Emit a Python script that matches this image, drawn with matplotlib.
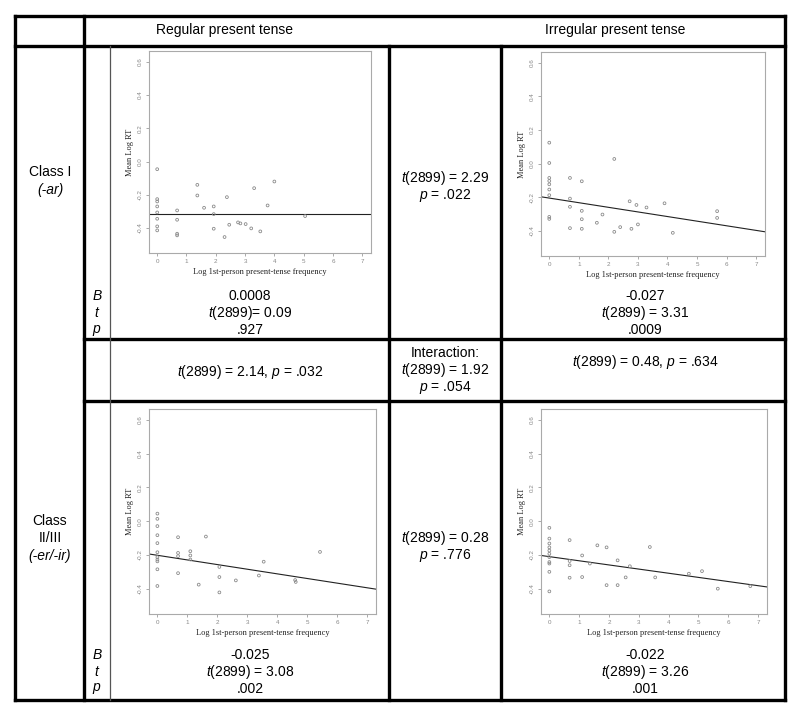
import matplotlib
matplotlib.use("Agg")
import matplotlib.pyplot as plt
from matplotlib.lines import Line2D
import numpy as np

plt.rcParams['font.family'] = ['Liberation Sans', 'DejaVu Sans']
plt.rcParams['mathtext.fontset'] = 'custom'
plt.rcParams['mathtext.rm'] = 'Liberation Sans'
plt.rcParams['mathtext.it'] = 'Liberation Sans:italic'

# ---------------- data ----------------
col_headers = ["Regular present tense", "Irregular present tense"]

# Class I, regular
c1_reg_x = [0, 0, 0, 0, 0, 0, 0, 0, 0.68, 0.68, 0.68, 0.68, 1.37, 1.37, 1.6, 1.93, 1.93,
            1.93, 2.3, 2.38, 2.46, 2.76, 2.84, 3.02, 3.21, 3.31, 3.52, 3.77, 4.0, 5.05]
c1_reg_y = [-0.046, -0.226, -0.24, -0.27, -0.306, -0.344, -0.39, -0.414, -0.294, -0.35,
            -0.434, -0.444, -0.14, -0.204, -0.278, -0.27, -0.316, -0.404, -0.454, -0.214,
            -0.38, -0.366, -0.372, -0.376, -0.402, -0.16, -0.42, -0.264, -0.12, -0.328]
c1_reg_fit = (-0.316, 0.0)  # intercept, slope

# Class I, irregular
c1_irr_x = [0, 0, 0, 0, 0, 0, 0, 0, 0, 0.7, 0.7, 0.7, 0.7, 1.1, 1.1, 1.1, 1.1, 1.61, 1.8,
            2.2, 2.2, 2.4, 2.72, 2.78, 2.95, 3.0, 3.29, 3.9, 4.18, 5.68, 5.68]
c1_irr_y = [0.125, 0.004, -0.085, -0.103, -0.123, -0.154, -0.188, -0.317, -0.329, -0.085,
            -0.208, -0.257, -0.384, -0.105, -0.281, -0.331, -0.388, -0.352, -0.303, 0.028,
            -0.406, -0.378, -0.224, -0.388, -0.246, -0.362, -0.261, -0.236, -0.412, -0.283,
            -0.323]
c1_irr_fit = (-0.205, -0.0275)

# Class II/III, regular
c2_reg_x = [0, 0, 0, 0, 0, 0, 0, 0, 0, 0, 0, 0.69, 0.69, 0.69, 0.69, 1.1, 1.1, 1.1, 1.38,
            1.62, 2.07, 2.07, 2.07, 2.62, 3.39, 3.55, 4.6, 4.62, 5.43]
c2_reg_y = [0.045, 0.014, -0.029, -0.083, -0.13, -0.184, -0.213, -0.227, -0.238, -0.285,
            -0.384, -0.095, -0.188, -0.207, -0.308, -0.178, -0.203, -0.227, -0.376, -0.091,
            -0.271, -0.331, -0.422, -0.351, -0.322, -0.24, -0.349, -0.36, -0.182]
c2_reg_fit = (-0.202, -0.0275)

# Class II/III, irregular
c2_irr_x = [0, 0, 0, 0, 0, 0, 0, 0, 0, 0, 0, 0.68, 0.68, 0.68, 0.68, 1.1, 1.1, 1.36, 1.61,
            1.92, 1.92, 2.29, 2.29, 2.56, 2.7, 3.37, 3.55, 4.68, 5.12, 5.65, 6.74]
c2_irr_y = [-0.039, -0.103, -0.132, -0.155, -0.174, -0.193, -0.213, -0.242, -0.251, -0.3,
            -0.416, -0.112, -0.236, -0.261, -0.335, -0.203, -0.331, -0.251, -0.143, -0.155,
            -0.379, -0.232, -0.379, -0.333, -0.267, -0.153, -0.333, -0.311, -0.296, -0.4,
            -0.385]
c2_irr_fit = (-0.21, -0.0246)

x_ticks = [0, 1, 2, 3, 4, 5, 6, 7]
y_ticks = [-0.4, -0.2, 0.0, 0.2, 0.4, 0.6]
y_ticklabels = ["-0.4", "-0.2", "0.0", "0.2", "0.4", "0.6"]

row1_stats_reg = ["0.0008", r"$t$(2899)= 0.09", ".927"]
row1_stats_irr = ["-0.027", r"$t$(2899) = 3.31", ".0009"]
row2_stats_reg = ["-0.025", r"$t$(2899) = 3.08", ".002"]
row2_stats_irr = ["-0.022", r"$t$(2899) = 3.26", ".001"]
stat_names = [r"$B$", r"$t$", r"$p$"]
mid_row1 = [r"$t$(2899) = 2.29", r"$p$ = .022"]
mid_row2 = [r"$t$(2899) = 0.28", r"$p$ = .776"]
interaction = ["Interaction:", r"$t$(2899) = 1.92", r"$p$ = .054"]
inter_reg = r"$t$(2899) = 2.14, $p$ = .032"
inter_irr = r"$t$(2899) = 0.48, $p$ = .634"

# ---------------- figure ----------------
W, H = 800, 715
fig = plt.figure(figsize=(W / 100, H / 100), dpi=100)
fig.patch.set_facecolor('white')

def fx(x):
    return x / W

def fy(y):
    return 1 - y / H

def hline(y, x0, x1, lw=2.4, color='black'):
    fig.add_artist(Line2D([fx(x0), fx(x1)], [fy(y), fy(y)], transform=fig.transFigure,
                          lw=lw, color=color, solid_capstyle='projecting'))

def vline(x, y0, y1, lw=2.4, color='black'):
    fig.add_artist(Line2D([fx(x), fx(x)], [fy(y0), fy(y1)], transform=fig.transFigure,
                          lw=lw, color=color, solid_capstyle='projecting'))

def txt(x, y, s, size=10, **kw):
    fig.text(fx(x), fy(y), s, ha='center', va='center', fontsize=size, **kw)

# table lines
hline(15.5, 15, 785)
hline(45.5, 15, 785)
hline(339, 84, 785)
hline(401, 84, 785)
hline(700, 15, 785)
vline(15, 15.5, 700)
vline(84, 15.5, 700)
vline(785, 15.5, 700)
vline(389, 45.5, 700)
vline(501, 45.5, 700)
vline(110, 45.5, 700, lw=0.9, color='#555555')

# scatter panels
panels = [
    (149, 371, 51, 253, c1_reg_x, c1_reg_y, c1_reg_fit),
    (541, 765, 52, 256, c1_irr_x, c1_irr_y, c1_irr_fit),
    (149, 376, 409, 614, c2_reg_x, c2_reg_y, c2_reg_fit),
    (541, 767, 409, 614, c2_irr_x, c2_irr_y, c2_irr_fit),
]
for (l, r, t, b, xs, ys, fit) in panels:
    ax = fig.add_axes([fx(l), fy(b), (r - l) / W, (b - t) / H])
    ax.scatter(xs, ys, s=4, facecolors='none', edgecolors='#8a8a8a', linewidths=0.6, zorder=3)
    xl = (-0.28, 7.3)
    ax.set_xlim(*xl)
    ax.set_ylim(-0.55, 0.665)
    xx = np.array(xl)
    ax.plot(xx, fit[0] + fit[1] * xx, color='#222222', lw=0.8)
    ax.set_xticks(x_ticks)
    ax.set_yticks(y_ticks)
    ax.set_yticklabels(y_ticklabels, rotation=90, va='center')
    ax.tick_params(axis='both', labelsize=4.5, colors='#888888', length=2.5, width=0.5,
                   pad=2)
    for sp in ax.spines.values():
        sp.set_color('#aaaaaa')
        sp.set_linewidth(0.8)
    ax.set_ylabel("Mean Log RT", family='Liberation Serif', fontsize=6, color='#222222',
                  labelpad=3)
    ax.set_xlabel("Log 1st-person present-tense frequency", family='Liberation Serif',
                  fontsize=6, color='#222222', labelpad=3)

# header
txt(225, 30, col_headers[0])
txt(615, 30, col_headers[1])

# row labels
txt(50, 172, "Class I")
txt(50, 190, "(-ar)", style='italic')
txt(50, 521, "Class")
txt(50, 538, "II/III")
txt(50, 556, "(-er/-ir)", style='italic')

# stats rows
for i, yy in enumerate([296, 313, 330]):
    txt(97, yy, stat_names[i])
    txt(250, yy, row1_stats_reg[i])
    txt(645, yy, row1_stats_irr[i])
for i, yy in enumerate([655, 672, 689]):
    txt(97, yy, stat_names[i])
    txt(250, yy, row2_stats_reg[i])
    txt(645, yy, row2_stats_irr[i])

# middle column
txt(445, 178, mid_row1[0])
txt(445, 195, mid_row1[1])
txt(445, 538, mid_row2[0])
txt(445, 555, mid_row2[1])
for i, yy in enumerate([353, 370, 387]):
    txt(445, yy, interaction[i])

# interaction row
txt(250, 372, inter_reg)
txt(645, 362, inter_irr)

fig.savefig("out.png", dpi=100, facecolor='white')
